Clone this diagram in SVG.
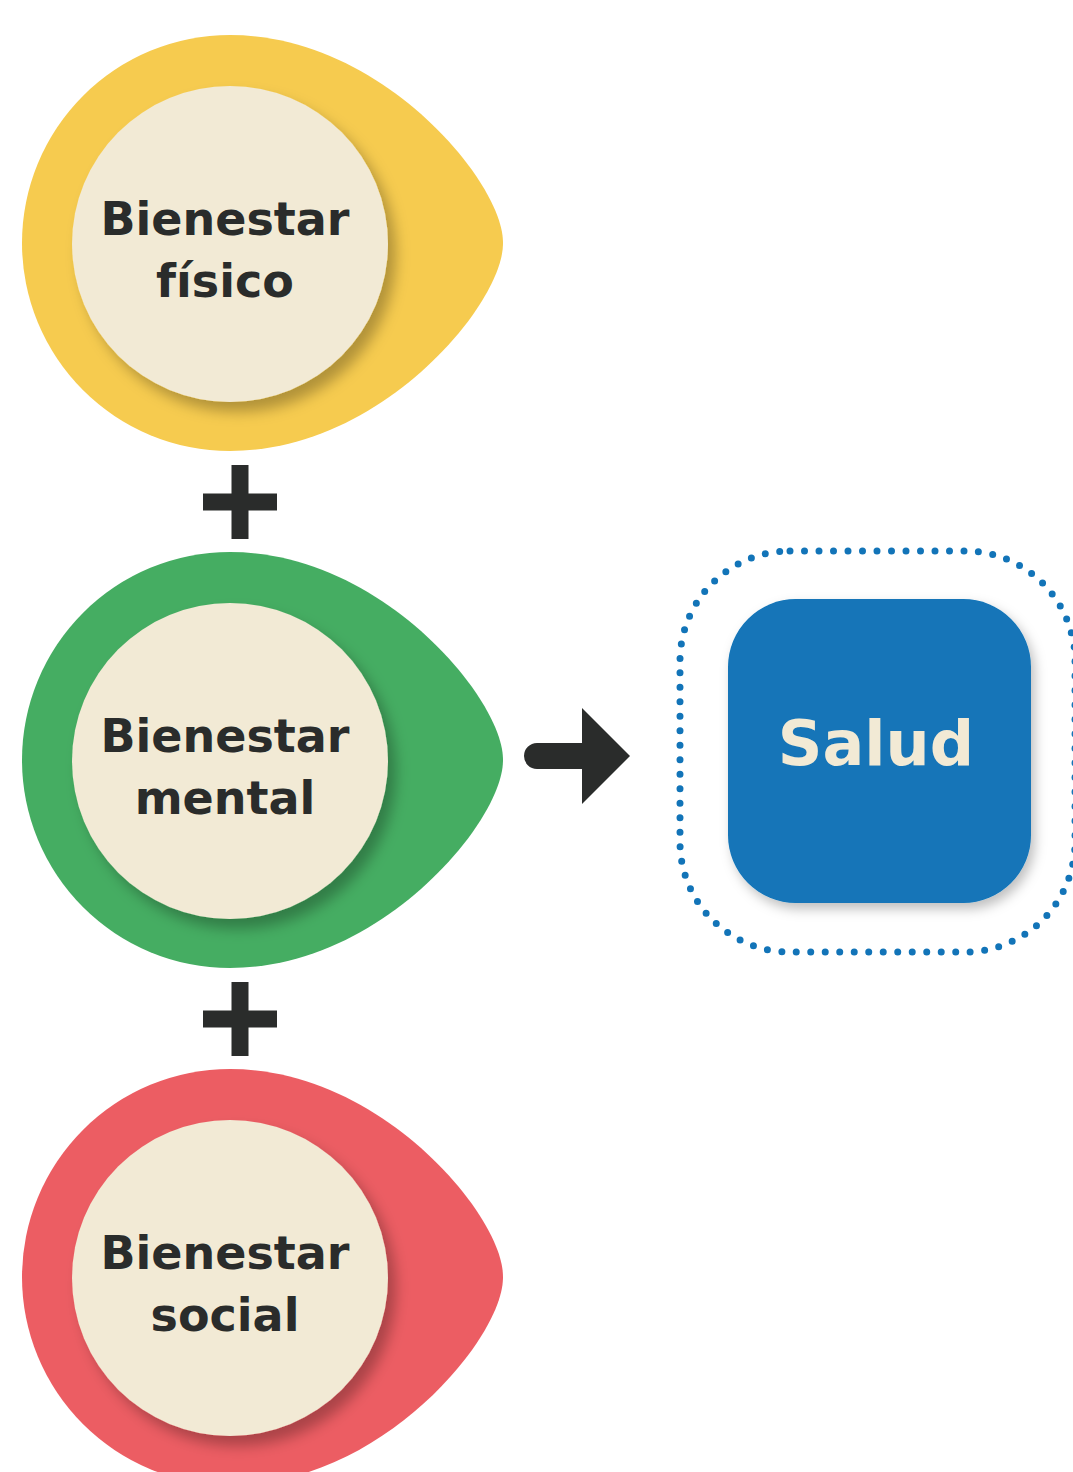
<svg xmlns="http://www.w3.org/2000/svg" width="1073" height="1472" viewBox="0 0 1073 1472">
<defs>
<style>
.lbl{font-family:"DejaVu Sans","Liberation Sans",sans-serif;font-weight:bold;font-size:46px;fill:#2a2c2b;text-anchor:middle}
.inner{fill:#F2EAD5}
.sym{fill:#2a2c2b}
</style>
<filter id="sh" x="-20%" y="-20%" width="150%" height="150%">
<feDropShadow dx="8" dy="10" stdDeviation="7" flood-color="#000" flood-opacity="0.28"/>
</filter>
<filter id="sh2" x="-20%" y="-20%" width="150%" height="150%">
<feDropShadow dx="4" dy="6" stdDeviation="6" flood-color="#000" flood-opacity="0.25"/>
</filter>
<path id="drop" d="M230,35 C335,35 425,105 472,170 C498,207 503,230 503,243 C503,256 498,279 472,316 C425,381 335,451 230,451 A208,208 0 0 1 230,35 Z"/>
</defs>
<rect width="1073" height="1472" fill="#fff"/>

<g id="node-fisico">
<use href="#drop" fill="#F6CB4F"/>
<circle class="inner" cx="230" cy="244" r="158" filter="url(#sh)"/>
<text class="lbl" x="225" y="235">Bienestar</text>
<text class="lbl" x="225" y="297">físico</text>
</g>

<g id="node-mental">
<use href="#drop" y="517" fill="#45AD62"/>
<circle class="inner" cx="230" cy="761" r="158" filter="url(#sh)"/>
<text class="lbl" x="225" y="752">Bienestar</text>
<text class="lbl" x="225" y="814">mental</text>
</g>

<g id="node-social">
<use href="#drop" y="1034" fill="#EC5D63"/>
<circle class="inner" cx="230" cy="1278" r="158" filter="url(#sh)"/>
<text class="lbl" x="225" y="1269">Bienestar</text>
<text class="lbl" x="225" y="1331">social</text>
</g>

<g id="node-salud">
<rect x="680" y="551" width="395" height="401" rx="110" fill="none" stroke="#1274B8" stroke-width="7" stroke-linecap="round" stroke-dasharray="0 14.5"/>
<rect x="728" y="599" width="303" height="304" rx="68" fill="#1274B8" filter="url(#sh2)"/>
<text x="876" y="765" font-family="DejaVu Sans, Liberation Sans, sans-serif" font-weight="bold" font-size="62" fill="#F2EAD5" text-anchor="middle">Salud</text>
</g>

<g id="connectors">
<path class="sym" d="M231.5,465 h17 v28.5 h28.5 v17 h-28.5 v28.5 h-17 v-28.5 h-28.5 v-17 h28.5 z"/>
<path class="sym" d="M231.5,982 h17 v28.5 h28.5 v17 h-28.5 v28.5 h-17 v-28.5 h-28.5 v-17 h28.5 z"/>
<path class="sym" d="M537,743 H582 V708 L630,756 L582,804 V769 H537 A13,13 0 0 1 537,743 Z"/>
</g>
</svg>
